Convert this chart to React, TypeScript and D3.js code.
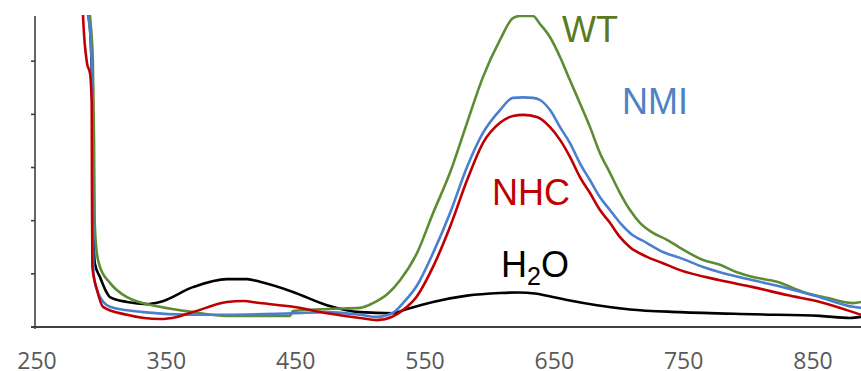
import React from "react";
import * as d3 from "d3";

const xTicks = [250, 350, 450, 550, 650, 750, 850];
const yTicks = [0, 1, 2, 3, 4, 5];

const wtData: [number, number][] = [
  [289.5, 6.4], [291.0, 5.85], [293.2, 5.0], [294.1, 3.5], [294.6, 2.0], [296.0, 1.45],
  [298.7, 1.13], [306.4, 0.83], [319.6, 0.56], [345.1, 0.38], [370.6, 0.28], [396.9, 0.21],
  [445.6, 0.21], [447.9, 0.3], [474.2, 0.34], [499.7, 0.36], [509.8, 0.45], [521.0, 0.62],
  [530.7, 0.88], [543.8, 1.39], [556.2, 2.14], [569.3, 2.9], [582.5, 3.84], [594.8, 4.7],
  [608.0, 5.4], [618.0, 5.81], [623.5, 5.85], [633.5, 5.85], [638.9, 5.7], [646.7, 5.45],
  [654.4, 5.08], [662.1, 4.64], [669.8, 4.21], [677.6, 3.76], [685.3, 3.27], [693.0, 2.9],
  [700.8, 2.52], [708.5, 2.2], [716.2, 1.96], [726.3, 1.77], [737.1, 1.64], [747.2, 1.49],
  [765.0, 1.26], [778.1, 1.17], [791.2, 1.03], [803.6, 0.94], [822.2, 0.85], [842.3, 0.66],
  [860.8, 0.55], [880.9, 0.45], [887.1, 0.47],
];

const nmiData: [number, number][] = [
  [287.5, 6.4], [289.5, 5.85], [291.0, 5.58], [292.8, 4.5], [293.3, 2.5], [293.6, 1.02],
  [297.2, 0.64], [306.4, 0.38], [332.0, 0.28], [370.6, 0.23], [396.9, 0.23], [447.9, 0.26],
  [474.2, 0.28], [499.7, 0.23], [512.9, 0.19], [525.3, 0.27], [533.0, 0.45], [543.8, 0.78],
  [556.2, 1.39], [569.3, 2.14], [582.5, 3.01], [594.8, 3.65], [608.0, 4.08], [618.0, 4.31],
  [625.8, 4.32], [633.5, 4.31], [638.9, 4.27], [646.7, 4.08], [654.4, 3.76], [662.1, 3.46],
  [669.8, 3.08], [677.6, 2.76], [685.3, 2.44], [693.0, 2.2], [700.8, 1.96], [708.5, 1.77],
  [721.7, 1.58], [734.0, 1.41], [747.2, 1.3], [765.0, 1.13], [778.1, 1.03], [803.6, 0.88],
  [829.9, 0.73], [855.4, 0.56], [880.9, 0.38], [887.1, 0.36],
];

const nhcData: [number, number][] = [
  [285.0, 6.4], [285.6, 5.85], [288.7, 4.96], [291.0, 4.77], [292.3, 4.2], [292.5, 2.5],
  [292.8, 1.13], [296.4, 0.7], [301.0, 0.38], [319.6, 0.23], [345.1, 0.15], [358.2, 0.19],
  [370.6, 0.28], [396.9, 0.47], [409.3, 0.49], [422.4, 0.45], [447.9, 0.38], [474.2, 0.26],
  [499.7, 0.17], [512.9, 0.13], [525.3, 0.2], [533.0, 0.32], [543.8, 0.58], [556.2, 1.13],
  [569.3, 1.88], [582.5, 2.76], [594.8, 3.46], [608.0, 3.84], [618.0, 3.97], [625.8, 3.99],
  [636.6, 3.95], [646.7, 3.76], [654.4, 3.52], [662.1, 3.2], [669.8, 2.82], [677.6, 2.52],
  [685.3, 2.2], [693.0, 1.96], [700.8, 1.69], [708.5, 1.5], [721.7, 1.32], [734.0, 1.2],
  [747.2, 1.07], [778.1, 0.88], [803.6, 0.75], [829.9, 0.6], [855.4, 0.47], [880.9, 0.28],
  [887.1, 0.23],
];

const h2oData: [number, number][] = [
  [288.0, 6.4], [290.0, 5.85], [291.5, 5.4], [293.0, 4.0], [293.5, 2.0], [294.7, 1.2],
  [298.7, 0.94], [304.1, 0.64], [306.4, 0.56], [319.6, 0.47], [335.1, 0.43], [345.1, 0.47],
  [370.6, 0.75], [396.9, 0.9], [412.4, 0.9], [422.4, 0.85], [447.9, 0.66], [474.2, 0.41],
  [499.7, 0.28], [525.3, 0.26], [535.0, 0.33], [556.2, 0.47], [582.5, 0.59], [608.0, 0.64],
  [622.0, 0.65], [635.0, 0.63], [648.0, 0.57], [662.0, 0.5], [683.0, 0.41], [708.5, 0.33],
  [747.2, 0.28], [803.6, 0.24], [855.4, 0.21], [878.6, 0.17], [887.1, 0.19],
];

const seriesNames = ["H2O", "WT", "NMI", "NHC"];
const seriesColors = ["#000000", "#5e8c34", "#4a7fd0", "#c00000"];
const seriesData = [h2oData, wtData, nmiData, nhcData];

const W = 861;
const H = 371;

export default function App() {
  const x = d3.scaleLinear().domain([250, 850]).range([37, 813]);
  const y = d3.scaleLinear().domain([0, 5.85]).range([327, 16]);
  const line = d3
    .line<[number, number]>()
    .x((d) => x(d[0]))
    .y((d) => y(d[1]))
    .curve(d3.curveMonotoneX);

  const axisColor = "#404040";

  return (
    <svg
      width={W}
      height={H}
      style={{ position: "absolute", left: 0, top: 0, background: "#fff" }}
    >
      <defs>
        <clipPath id="plotClip">
          <rect x={35} y={y(5.85) - 1} width={W - 35} height={y(0) - y(5.85) + 3} />
        </clipPath>
      </defs>

      {/* y axis */}
      <line x1={35} x2={35} y1={y(5.85)} y2={y(0) + 2} stroke={axisColor} strokeWidth={1.6} />
      {yTicks.map((t) => (
        <line key={t} x1={31} x2={35} y1={y(t)} y2={y(t)} stroke={axisColor} strokeWidth={1.6} />
      ))}
      {/* x axis */}
      <line x1={31} x2={W} y1={y(0)} y2={y(0)} stroke={axisColor} strokeWidth={2} />

      {/* x tick labels */}
      {xTicks.map((t) => (
        <text
          key={t}
          x={x(t)}
          y={369}
          textAnchor="middle"
          fontFamily="'Open Sans', sans-serif"
          fontSize={23}
          fill="#595959"
        >
          {t}
        </text>
      ))}

      {/* series */}
      <g clipPath="url(#plotClip)">
        {seriesData.map((d, i) => (
          <path
            key={seriesNames[i]}
            d={line(d) || ""}
            fill="none"
            stroke={seriesColors[i]}
            strokeWidth={2.6}
            strokeLinejoin="round"
          />
        ))}
      </g>

      {/* labels */}
      <g fontFamily="'Liberation Sans', Arial, sans-serif" fontSize={36}>
        <text x={562} y={42} fill="#5a7a22">WT</text>
        <text x={622} y={114} fill="#4f81c4">NMI</text>
        <text x={492} y={205} fill="#c00000">NHC</text>
        <text x={501} y={277} fill="#000000">
          H<tspan fontSize={25} dy={8}>2</tspan>
          <tspan dy={-8}>O</tspan>
        </text>
      </g>
    </svg>
  );
}
